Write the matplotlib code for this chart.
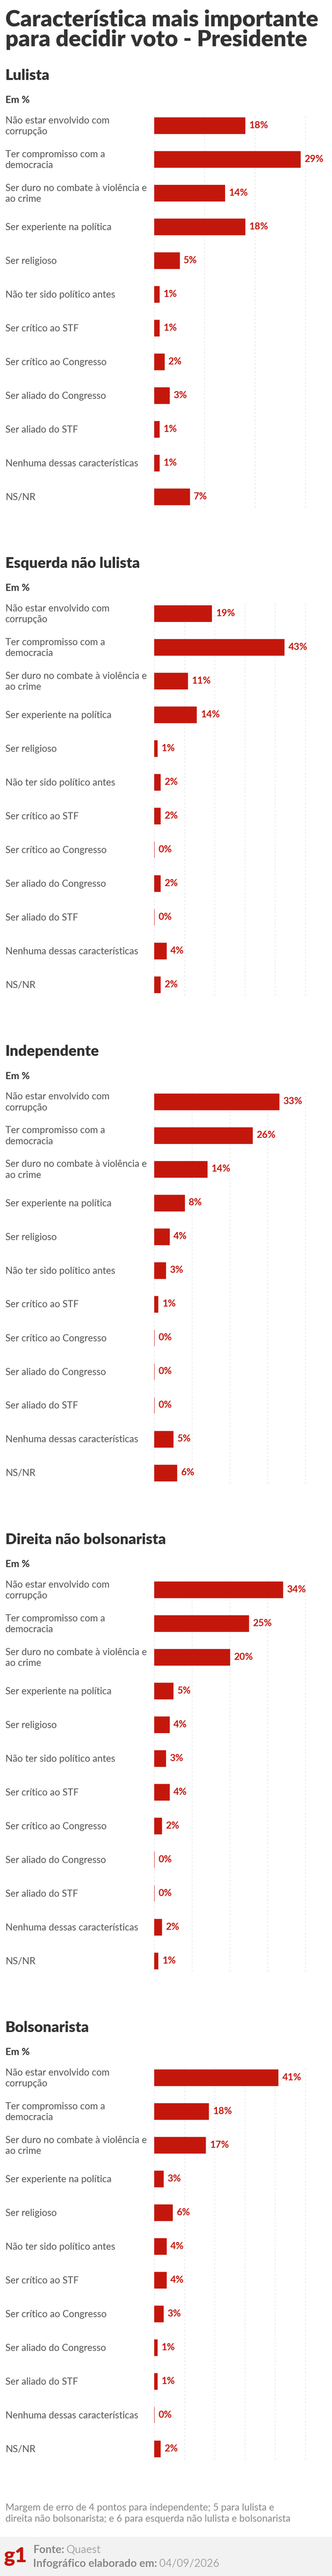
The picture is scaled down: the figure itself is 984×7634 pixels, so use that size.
import numpy as np
import matplotlib
matplotlib.use('Agg')
import matplotlib.pyplot as plt
from matplotlib.transforms import blended_transform_factory

plt.rcParams['font.family'] = ['Lato', 'DejaVu Sans']

# dados (em %)
categorias = ["Não estar envolvido com\ncorrupção",
              "Ter compromisso com a\ndemocracia",
              "Ser duro no combate à violência e\nao crime",
              "Ser experiente na política",
              "Ser religioso",
              "Não ter sido político antes",
              "Ser crítico ao STF",
              "Ser crítico ao Congresso",
              "Ser aliado do Congresso",
              "Ser aliado do STF",
              "Nenhuma dessas características",
              "NS/NR"]

grupos = ["Lulista", "Esquerda não lulista", "Independente",
          "Direita não bolsonarista", "Bolsonarista"]

lulista = [18, 29, 14, 18, 5, 1, 1, 2, 3, 1, 1, 7]
esquerda = [19, 43, 11, 14, 1, 2, 2, 0, 2, 0, 4, 2]
independente = [33, 26, 14, 8, 4, 3, 1, 0, 0, 0, 5, 6]
direita = [34, 25, 20, 5, 4, 3, 4, 2, 0, 0, 2, 1]
bolsonarista = [41, 18, 17, 3, 6, 4, 4, 3, 1, 1, 0, 2]

valores = [lulista, esquerda, independente, direita, bolsonarista]

titulo = ["Característica mais importante", "para decidir voto - Presidente"]
nota = ["Margem de erro de 4 pontos para independente; 5 para lulista e",
        "direita não bolsonarista; e 6 para esquerda não lulista e bolsonarista"]

VERMELHO = '#c4170c'
ESCURO = '#333333'
CINZA = '#555555'

W, H = 984, 7634
fig = plt.figure(figsize=(W / 100, H / 100), dpi=100)
fig.patch.set_facecolor('white')
r = fig.canvas.get_renderer()


def fx(px):
    return px / W


def fy(py):
    return 1 - py / H


def ajusta(s, alvo, **kw):
    """tamanho de fonte para o texto ocupar 'alvo' pixels de largura"""
    t = fig.text(0, 0, s, fontsize=20, **kw)
    w = t.get_window_extent(r).width
    t.remove()
    return 20 * alvo / w


fs_tit = ajusta(titulo[0], 930, fontweight='heavy')
fs_grp = ajusta("Esquerda não lulista", 398, fontweight='heavy')
fs_em = ajusta("Em %", 72, fontweight='bold')
fs_cat = ajusta("Nenhuma dessas características", 394)
fs_val = ajusta("29%", 56, fontweight='bold')
fs_nota = ajusta(nota[1], 845)
fs_rod = ajusta("Infográfico elaborado em:", 368, fontweight='bold')

# titulo
fig.text(fx(16), fy(78), titulo[0], fontsize=fs_tit, fontweight='heavy', color=ESCURO, va='baseline')
fig.text(fx(16), fy(137), titulo[1], fontsize=fs_tit, fontweight='heavy', color=ESCURO, va='baseline')

x0, x1 = 457, 905
for k, (nome, vals) in enumerate(zip(grupos, valores)):
    t0 = 348 + 1446.25 * k  # topo da primeira barra
    fig.text(fx(16), fy(t0 - 111), nome, fontsize=fs_grp, fontweight='heavy', color=ESCURO, va='baseline')
    fig.text(fx(16), fy(t0 - 43), "Em %", fontsize=fs_em, fontweight='bold', color=ESCURO, va='baseline')

    topo, base = t0 - 10, t0 + 1156
    ax = fig.add_axes([fx(x0), fy(base), fx(x1) - fx(x0), (base - topo) / H])
    xmax = int(np.ceil(max(vals) / 10.0)) * 10
    y = np.arange(len(vals))
    ax.barh(y, vals, height=0.48, color=VERMELHO, edgecolor=VERMELHO, linewidth=1, zorder=2)
    for g in range(0, xmax + 1, 10):
        ax.axvline(g, color='#dcdcdc', lw=1, ls=(0, (4, 4)), zorder=0, clip_on=False)
    ax.set_xlim(0, xmax)
    ax.set_ylim(11.32, -0.34)
    ax.axis('off')

    tr = blended_transform_factory(fig.transFigure, ax.transData)
    for i, (cat, v) in enumerate(zip(categorias, vals)):
        ax.text(fx(16), i + 0.02, cat, transform=tr, ha='left', va='center', fontsize=fs_cat,
                color=CINZA, linespacing=1.3)
        ax.annotate(f"{v}%", (v, i), xytext=(9, 0), textcoords='offset points',
                    ha='left', va='center', fontsize=fs_val, fontweight='bold', color=VERMELHO)

# nota
fig.text(fx(16), fy(7440), nota[0], fontsize=fs_nota, color='#888888', va='baseline')
fig.text(fx(16), fy(7473), nota[1], fontsize=fs_nota, color='#888888', va='baseline')

# rodape
rod = fig.add_axes([0, 0, 1, (H - 7518) / H])
rod.set_facecolor('#f2f2f2')
rod.set_xticks([])
rod.set_yticks([])
for s in rod.spines.values():
    s.set_visible(False)

fig.text(fx(12), fy(7592), "g1", fontsize=44, fontweight='heavy', color=VERMELHO, va='baseline')

for yb, forte, fraco in [(7566, "Fonte:", "Quaest"),
                         (7607, "Infográfico elaborado em:", "04/09/2026")]:
    t = fig.text(fx(98), fy(yb), forte, fontsize=fs_rod, fontweight='bold', color='#888888', va='baseline')
    bb = t.get_window_extent(r)
    fig.text(fx(bb.x1 + 6), fy(yb), fraco, fontsize=fs_rod, color='#a6a6a6', va='baseline')

fig.savefig('out.png', dpi=100)
